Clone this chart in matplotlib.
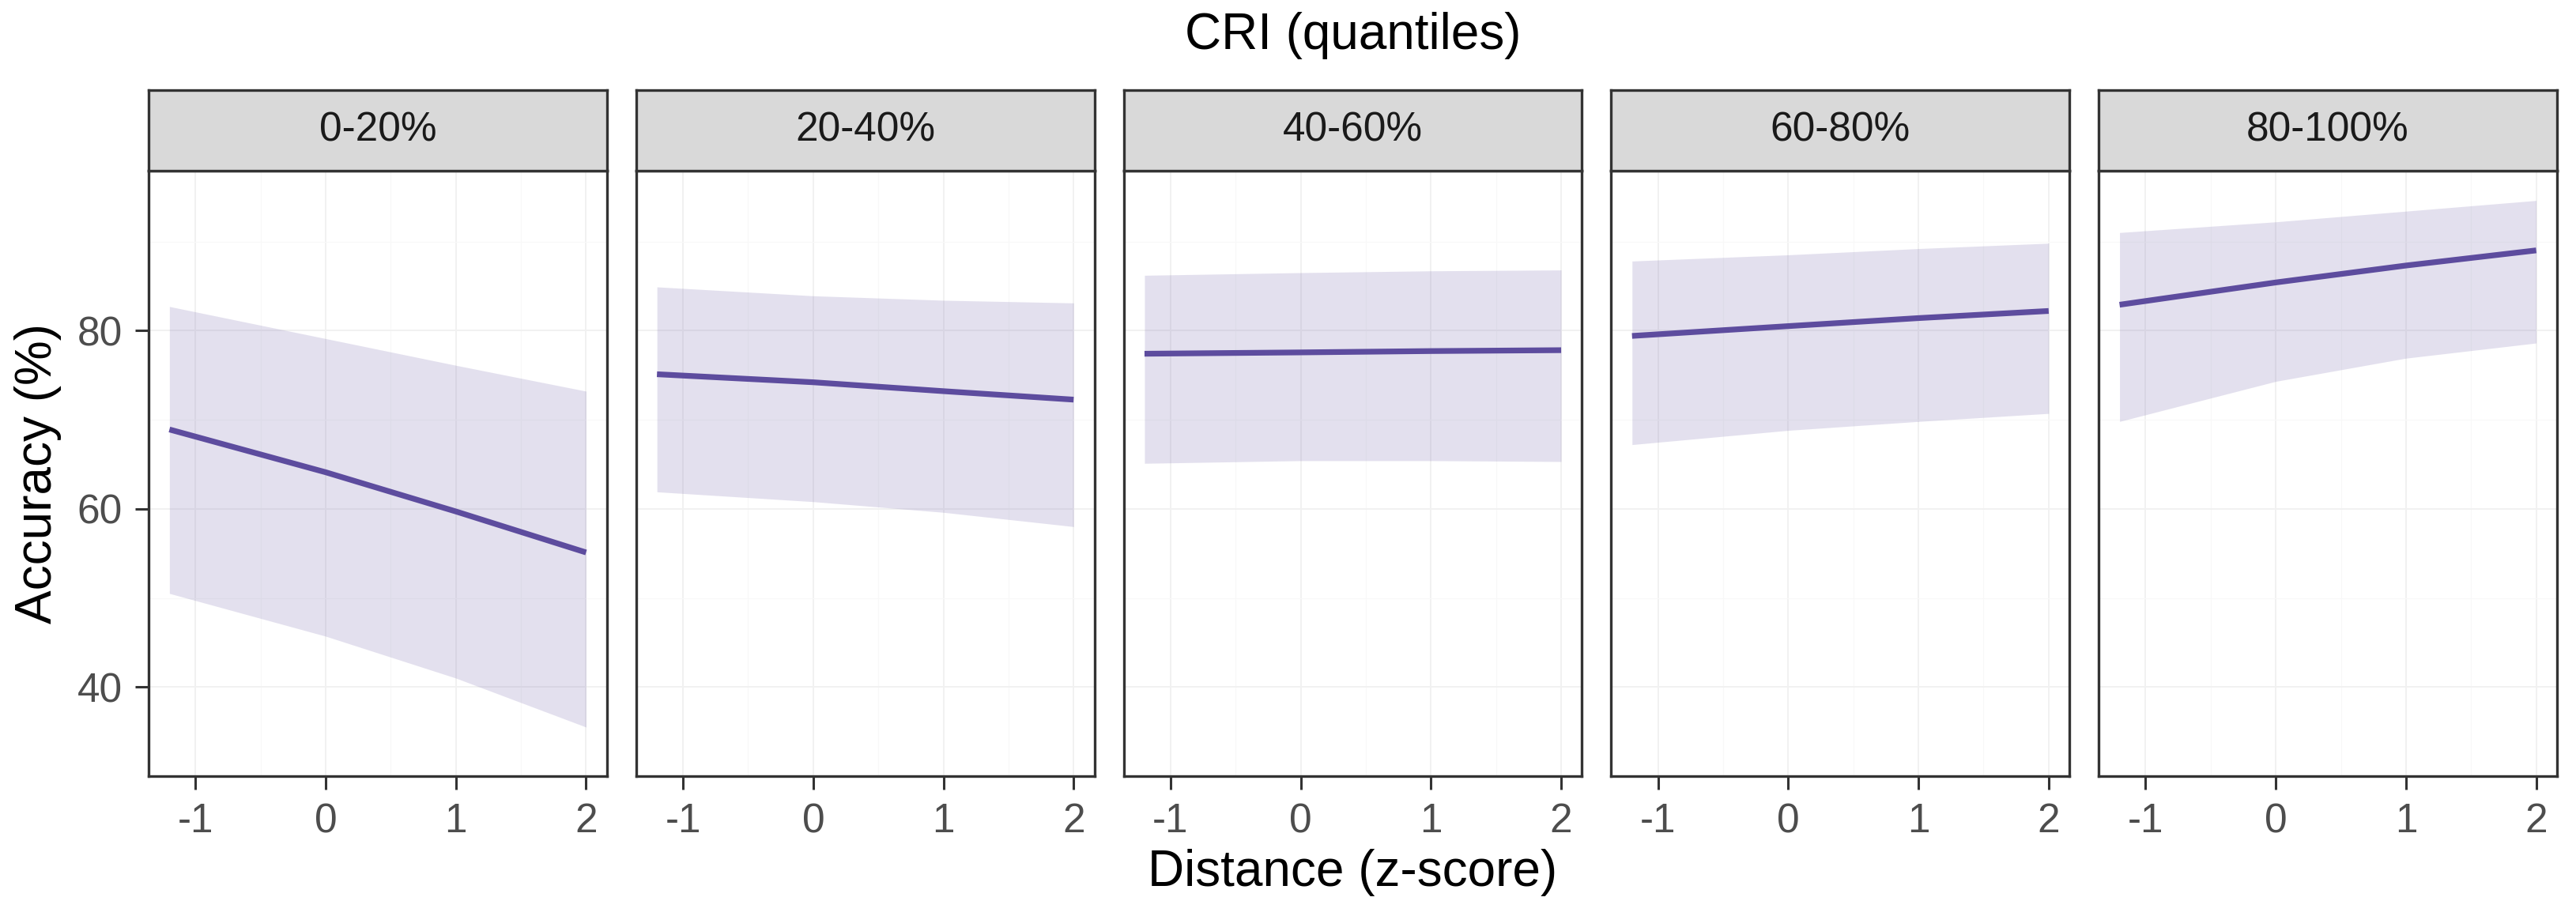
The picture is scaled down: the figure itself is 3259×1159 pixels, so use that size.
import matplotlib
matplotlib.use("Agg")
import numpy as np
from matplotlib import pyplot as plt
from matplotlib.ticker import MultipleLocator

plt.rcParams['font.family'] = ['Liberation Sans', 'DejaVu Sans']
plt.rcParams['axes.unicode_minus'] = False

# CRI quantile panels
PANELS = ["0-20%", "20-40%", "40-60%", "60-80%", "80-100%"]

# distance (z-score) at which the fitted curves were read
distance = [-1.2, 0, 1, 2]

# fitted accuracy (%) and its confidence band per panel
fit = [
    [68.9, 64.1, 59.7, 55.1],
    [75.1, 74.2, 73.2, 72.25],
    [77.4, 77.55, 77.7, 77.8],
    [79.4, 80.5, 81.4, 82.2],
    [82.9, 85.4, 87.3, 89.0],
]
upper = [
    [82.7, 79.1, 76.1, 73.2],
    [84.9, 83.9, 83.4, 83.1],
    [86.2, 86.5, 86.7, 86.8],
    [87.8, 88.5, 89.2, 89.8],
    [91.0, 92.2, 93.4, 94.6],
]
lower = [
    [50.5, 45.7, 41.0, 35.5],
    [61.9, 60.8, 59.6, 58.0],
    [65.1, 65.4, 65.4, 65.3],
    [67.2, 68.8, 69.8, 70.7],
    [69.8, 74.3, 76.9, 78.6],
]

LINE_COLOR = "#5D4C9E"
EDGE = "#333333"
W, H = 3259, 1159

fig = plt.figure(figsize=(W / 200, H / 200), dpi=200)

left, right = 188, 3235
gap = 37
pw = (right - left - 4 * gap) / 5
top_px, bottom_px, strip_top = 216, 982, 114

for i, label in enumerate(PANELS):
    x0 = left + i * (pw + gap)
    ax = fig.add_axes([x0 / W, 1 - bottom_px / H, pw / W, (bottom_px - top_px) / H])
    ax.fill_between(distance, lower[i], upper[i], color=LINE_COLOR, alpha=0.17,
                    linewidth=0, zorder=2)
    ax.plot(distance, fit[i], color=LINE_COLOR, linewidth=2.6, zorder=3,
            solid_capstyle='butt')

    ax.set_xlim(-1.36, 2.16)
    ax.set_ylim(32.19, 97.94)
    ax.xaxis.set_major_locator(MultipleLocator(1))
    ax.xaxis.set_minor_locator(MultipleLocator(0.5))
    ax.set_yticks([40, 60, 80])
    ax.set_yticks([30, 50, 70, 90], minor=True)
    ax.grid(which='major', color='#F1F1F1', linewidth=0.7, zorder=0)
    ax.grid(which='minor', color='#F8F8F8', linewidth=0.4, zorder=0)
    ax.set_axisbelow(True)
    ax.tick_params(which='major', length=6, width=1.1, color=EDGE, pad=6,
                   labelsize=18.5, labelcolor='#4D4D4D')
    ax.tick_params(which='minor', length=0)
    if i > 0:
        ax.tick_params(axis='y', which='both', left=False, labelleft=False)
    for s in ax.spines.values():
        s.set_color(EDGE)
        s.set_linewidth(1.2)

    sax = fig.add_axes([x0 / W, 1 - top_px / H, pw / W, (top_px - strip_top) / H])
    sax.set_facecolor('#D9D9D9')
    sax.set_xticks([])
    sax.set_yticks([])
    for s in sax.spines.values():
        s.set_color(EDGE)
        s.set_linewidth(1.2)
    sax.text(0.5, 0.5, label, ha='center', va='center', fontsize=18.5,
             color='#1A1A1A', transform=sax.transAxes)

cx = (left + right) / 2 / W
fig.text(cx, 1 - 45 / H, "CRI (quantiles)", ha='center', va='center', fontsize=23)
fig.text(cx, 1 - 1104 / H, "Distance (z-score)", ha='center', va='center', fontsize=23)
fig.text(48 / W, 1 - 599 / H, "Accuracy (%)", ha='center', va='center',
         rotation=90, fontsize=23)

fig.savefig("out.png", dpi=200, facecolor='white')
